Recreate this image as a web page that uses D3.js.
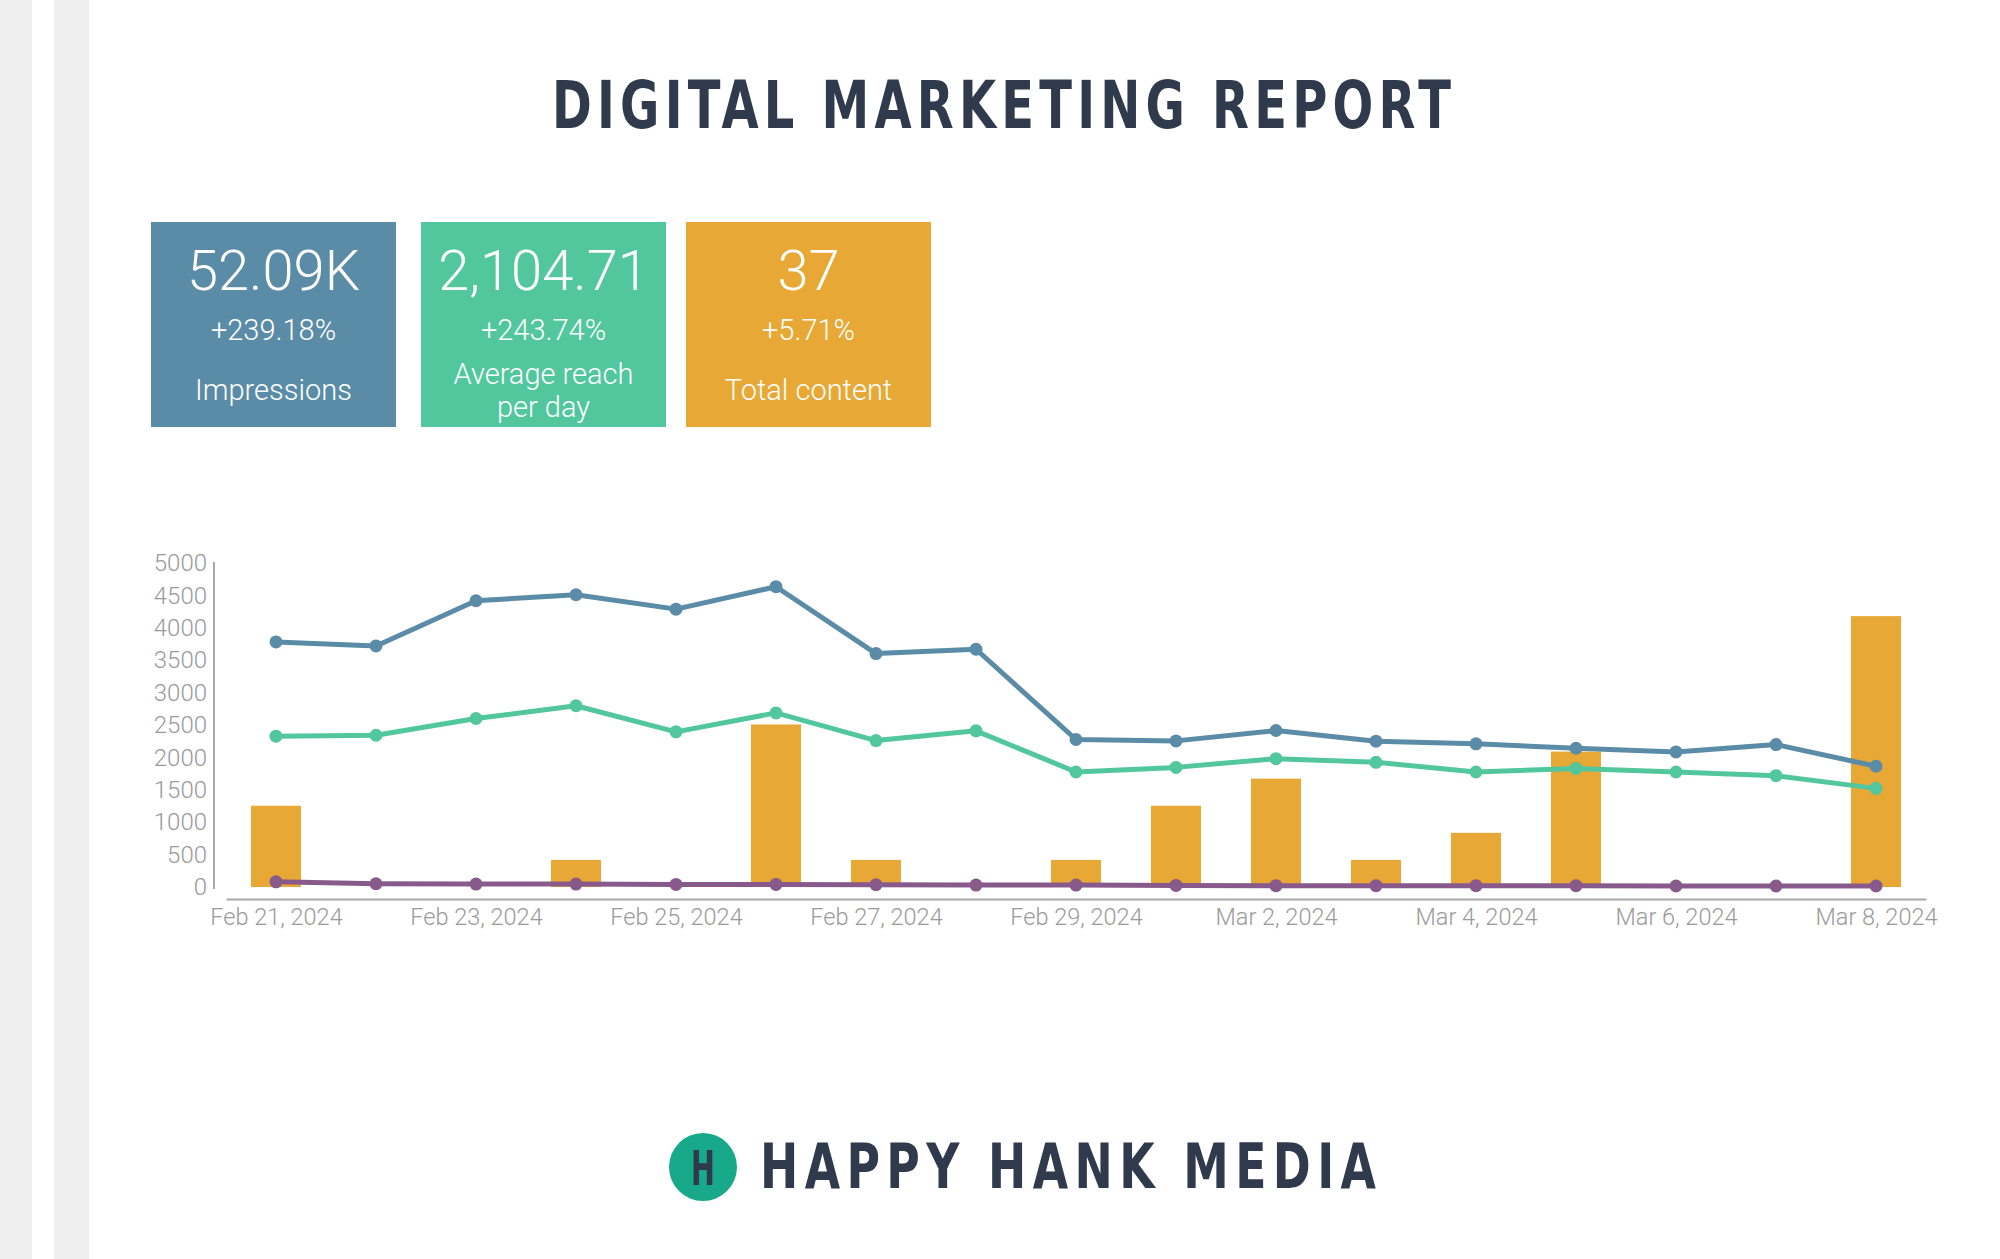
<!DOCTYPE html>
<html>
<head>
<meta charset="utf-8">
<script src="https://cdn.jsdelivr.net/npm/d3@7"></script>
<style>
  body { margin: 0; background: #fff; }
  svg { display: block; }
</style>
</head>
<body>
<div id="report"></div>
<script>
// data
const days = ["Feb 21, 2024", "Feb 22, 2024", "Feb 23, 2024", "Feb 24, 2024", "Feb 25, 2024",
  "Feb 26, 2024", "Feb 27, 2024", "Feb 28, 2024", "Feb 29, 2024", "Mar 1, 2024", "Mar 2, 2024",
  "Mar 3, 2024", "Mar 4, 2024", "Mar 5, 2024", "Mar 6, 2024", "Mar 7, 2024", "Mar 8, 2024"];
const impressions = [3782, 3720, 4417, 4510, 4288, 4634, 3602, 3669, 2276, 2255, 2415, 2250, 2210, 2141, 2085, 2198, 1863];
const reach = [2327, 2342, 2600, 2797, 2394, 2687, 2260, 2410, 1775, 1846, 1981, 1924, 1775, 1830, 1775, 1718, 1522];
const engagement = [80, 50, 45, 45, 40, 40, 35, 30, 30, 25, 20, 20, 20, 20, 15, 15, 15];
const content = [3, 0, 0, 1, 0, 6, 1, 0, 1, 3, 4, 1, 2, 5, 0, 0, 10];
const yTicks = [0, 500, 1000, 1500, 2000, 2500, 3000, 3500, 4000, 4500, 5000];

const kpiValues = ["52.09K", "2,104.71", "37"];
const kpiChanges = ["+239.18%", "+243.74%", "+5.71%"];
const kpiLabels = [["Impressions"], ["Average reach", "per day"], ["Total content"]];

const W = 2000, H = 1259;
const blue = "#5b8ca7", green = "#52c79e", orange = "#e8a835", purple = "#885a8c", ink = "#2f3a4c";
const light = "Roboto, 'Helvetica Neue', sans-serif";

const svg = d3.select("#report").append("svg")
    .attr("width", W)
    .attr("height", H);

// grey strips on the left edge
svg.append("rect").attr("x", 0).attr("y", 0).attr("width", 32).attr("height", H).attr("fill", "#efefef");
svg.append("rect").attr("x", 54).attr("y", 0).attr("width", 35).attr("height", H).attr("fill", "#efefef");

// narrow display lettering: squeeze glyphs, spread the spacing
function displayText(x0, base, width, size, str) {
    const sx = 0.82;
    svg.append("text")
        .attr("transform", "translate(" + x0 + "," + base + ") scale(" + sx + ",1)")
        .attr("textLength", width / sx)
        .attr("lengthAdjust", "spacing")
        .style("font-family", "'DejaVu Sans Condensed', 'DejaVu Sans', sans-serif")
        .style("font-weight", "bold")
        .style("font-size", size + "px")
        .style("fill", ink)
        .text(str);
}

displayText(552, 128, 899, 65, "DIGITAL MARKETING REPORT");

// KPI boxes
const boxX = [151, 421, 686];
const boxColors = [blue, green, orange];
const boxW = 245, boxTop = 222, boxH = 205;

const box = svg.selectAll(".kpi")
    .data(kpiValues)
    .enter().append("g")
    .attr("class", "kpi")
    .attr("transform", (d, i) => "translate(" + boxX[i] + "," + boxTop + ")");

box.append("rect")
    .attr("width", boxW)
    .attr("height", boxH)
    .attr("fill", (d, i) => boxColors[i]);

box.append("text")
    .attr("x", boxW / 2)
    .attr("y", 68)
    .attr("text-anchor", "middle")
    .style("font-family", light)
    .style("font-weight", 300)
    .style("font-size", "56px")
    .style("fill", "#fff")
    .text(d => d);

box.append("text")
    .attr("x", boxW / 2)
    .attr("y", 118)
    .attr("text-anchor", "middle")
    .style("font-family", light)
    .style("font-weight", 300)
    .style("font-size", "29px")
    .style("fill", "#fff")
    .text((d, i) => kpiChanges[i]);

box.each(function (d, i) {
    const lines = kpiLabels[i];
    const top = lines.length > 1 ? 162 : 178;
    lines.forEach((l, j) => {
        d3.select(this).append("text")
            .attr("x", boxW / 2)
            .attr("y", top + j * 33)
            .attr("text-anchor", "middle")
            .style("font-family", light)
            .style("font-weight", 300)
            .style("font-size", "29px")
            .style("fill", "#fff")
            .text(l);
    });
});

// chart
const x = d3.scalePoint()
    .domain(days)
    .range([226, 1926])
    .padding(0.5);

const y = d3.scaleLinear()
    .domain([0, 5000])
    .range([887, 563]);

// content counts sit on a hidden second axis
const yContent = d3.scaleLinear()
    .domain([0, 12])
    .range([887, y(5016)]);

const barW = x.step() / 2;

svg.append("g")
    .attr("class", "yaxis")
    .attr("transform", "translate(214,0)")
    .call(d3.axisLeft(y).tickValues(yTicks).tickSize(0).tickPadding(7).tickFormat(d3.format("d")))
    .call(g => g.select(".domain").attr("stroke", "#a8a8a8").attr("stroke-width", 2).attr("d", "M0,562V889"))
    .call(g => g.selectAll("text")
        .style("font-family", light)
        .style("font-weight", 300)
        .style("font-size", "24px")
        .style("fill", "#9a9a9a"));

svg.append("g")
    .attr("class", "xaxis")
    .attr("transform", "translate(0,899)")
    .call(d3.axisBottom(x).tickValues(days.filter((d, i) => i % 2 === 0)).tickSize(0).tickPadding(9))
    .call(g => g.select(".domain").attr("stroke", "#a8a8a8").attr("stroke-width", 2))
    .call(g => g.selectAll("text")
        .style("font-family", light)
        .style("font-weight", 300)
        .style("font-size", "23.5px")
        .style("fill", "#9a9a9a"));

svg.selectAll(".bar")
    .data(content)
    .enter().append("rect")
    .attr("class", "bar")
    .attr("x", (d, i) => x(days[i]) - barW / 2)
    .attr("y", d => yContent(d))
    .attr("width", barW)
    .attr("height", d => yContent(0) - yContent(d))
    .attr("fill", orange);

const series = [
    {values: impressions, color: blue},
    {values: reach, color: green},
    {values: engagement, color: purple}
];

const line = d3.line()
    .x((d, i) => x(days[i]))
    .y(d => y(d));

series.forEach(s => {
    svg.append("path")
        .datum(s.values)
        .attr("d", line)
        .attr("fill", "none")
        .attr("stroke", s.color)
        .attr("stroke-width", 5)
        .attr("stroke-linejoin", "round");

    svg.selectAll(null)
        .data(s.values)
        .enter().append("circle")
        .attr("cx", (d, i) => x(days[i]))
        .attr("cy", d => y(d))
        .attr("r", 6.5)
        .attr("fill", s.color);
});

// footer logo
svg.append("circle")
    .attr("cx", 703)
    .attr("cy", 1167)
    .attr("r", 34)
    .attr("fill", "#17a98a");

svg.append("text")
    .attr("x", 703)
    .attr("y", 1185)
    .attr("text-anchor", "middle")
    .attr("textLength", 24)
    .attr("lengthAdjust", "spacingAndGlyphs")
    .style("font-family", "'DejaVu Sans Condensed', sans-serif")
    .style("font-weight", "bold")
    .style("font-size", "48px")
    .style("fill", ink)
    .text("H");

displayText(760, 1188, 616, 62, "HAPPY HANK MEDIA");
</script>
</body>
</html>
